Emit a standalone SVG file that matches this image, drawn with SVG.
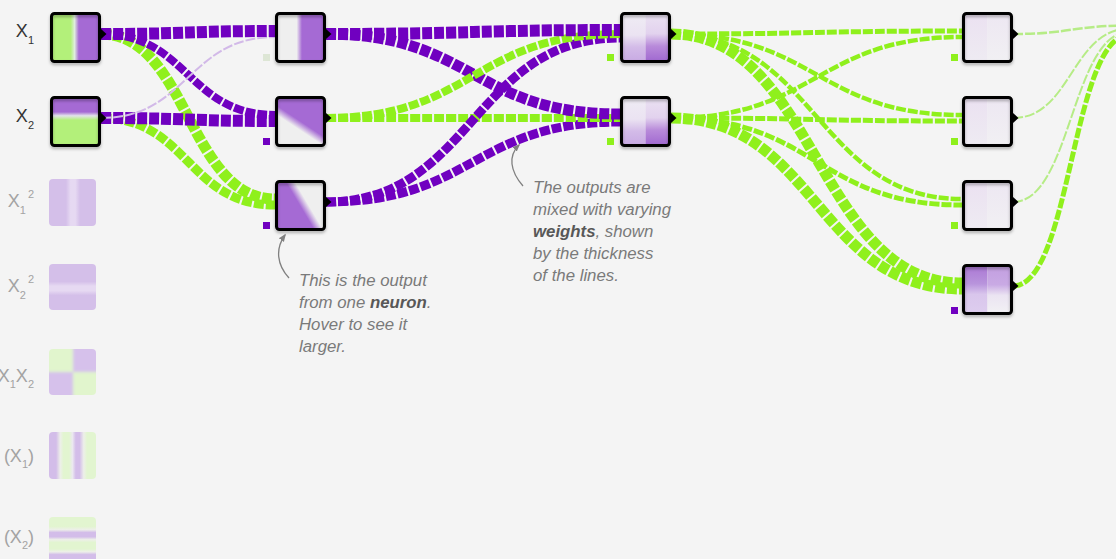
<svg xmlns="http://www.w3.org/2000/svg" width="1116" height="559" viewBox="0 0 1116 559">
<style>
.bg{fill:#f4f4f4}
.lk{fill:none;stroke-dasharray:10,2}
.pu{stroke:#7000c0}
.gr{stroke:#8ff01c}
.lg{stroke:#b6ec86}
.fp{stroke:#d2b9e8}
.box{fill:none;stroke:#000;stroke-width:3}
.lab{font-family:"Liberation Sans",Arial,sans-serif;font-size:18px;fill:#333}
.flab{font-family:"Liberation Sans",Arial,sans-serif;font-size:18px;fill:#a3a3a3}
.sm{font-size:11px}
.note{font-family:"Liberation Sans",Arial,sans-serif;font-size:16.8px;font-style:italic;fill:#7a7a7a}
.note .b{font-weight:bold;fill:#585858}
.arr{fill:none;stroke:#808080;stroke-width:1.3}
.bp{fill:#7000c0}
.bg2{fill:#8ff01c}
</style>
<defs>
<filter id="sh" x="-20%" y="-20%" width="140%" height="150%">
<feDropShadow dx="0" dy="2" stdDeviation="1.6" flood-color="#000" flood-opacity="0.3"/>
</filter>
<filter id="bl" x="-5%" y="-5%" width="110%" height="110%"><feGaussianBlur stdDeviation="1.5"/></filter>
<path id="tri" d="M0,-5 L5.5,0 L0,5 Z" fill="#000"/>
<marker id="ah" viewBox="0 0 10 10" refX="8" refY="5" markerWidth="6" markerHeight="6" orient="auto"><path d="M0,1 L10,5 L0,9 Z" fill="#808080"/></marker>
<linearGradient id="gX1" x1="0" y1="0" x2="1" y2="0"><stop offset="0" stop-color="#b3f07a"/><stop offset="0.4" stop-color="#b3f07a"/><stop offset="0.48" stop-color="#dfeedd"/><stop offset="0.57" stop-color="#a56ad4"/><stop offset="1" stop-color="#a56ad4"/></linearGradient>
<linearGradient id="gX2" x1="0" y1="0" x2="0" y2="1"><stop offset="0" stop-color="#a56ad4"/><stop offset="0.3" stop-color="#a56ad4"/><stop offset="0.38" stop-color="#e2e3ea"/><stop offset="0.47" stop-color="#b3f07a"/><stop offset="1" stop-color="#b3f07a"/></linearGradient>
<linearGradient id="gN1" x1="0" y1="0" x2="1" y2="0"><stop offset="0" stop-color="#efefef"/><stop offset="0.42" stop-color="#efefef"/><stop offset="0.53" stop-color="#a56ad4"/><stop offset="1" stop-color="#a56ad4"/></linearGradient>
<linearGradient id="gN2" gradientUnits="userSpaceOnUse" x1="305.5" y1="116.7" x2="294.5" y2="133.3"><stop offset="0" stop-color="#a56ad4"/><stop offset="0.33" stop-color="#a56ad4"/><stop offset="0.72" stop-color="#efefef"/><stop offset="1" stop-color="#efefef"/></linearGradient>
<linearGradient id="gN3" gradientUnits="userSpaceOnUse" x1="294.9" y1="210.1" x2="312.1" y2="199.9"><stop offset="0" stop-color="#a56ad4"/><stop offset="0.33" stop-color="#a56ad4"/><stop offset="0.72" stop-color="#efefef"/><stop offset="1" stop-color="#efefef"/></linearGradient>
<linearGradient id="gML" x1="0" y1="0" x2="0" y2="1"><stop offset="0" stop-color="#efecf4"/><stop offset="0.45" stop-color="#ebe3f2"/><stop offset="0.7" stop-color="#d3bbe8"/><stop offset="1" stop-color="#c8aae3"/></linearGradient>
<linearGradient id="gMR" x1="0" y1="0" x2="0" y2="1"><stop offset="0" stop-color="#ebe2f2"/><stop offset="0.42" stop-color="#e2d2ee"/><stop offset="0.68" stop-color="#b88ada"/><stop offset="1" stop-color="#a068d0"/></linearGradient>
<linearGradient id="gPL" x1="0" y1="0" x2="0" y2="1"><stop offset="0" stop-color="#ebe1f1"/><stop offset="1" stop-color="#eeebf2"/></linearGradient>
<linearGradient id="gPR" x1="0" y1="0" x2="0" y2="1"><stop offset="0" stop-color="#ede7f2"/><stop offset="1" stop-color="#f1f0f3"/></linearGradient>
<linearGradient id="gP4L" x1="0" y1="0" x2="0" y2="1"><stop offset="0" stop-color="#ab77d4"/><stop offset="0.38" stop-color="#b894dc"/><stop offset="0.6" stop-color="#d9c6ec"/><stop offset="1" stop-color="#ddcdee"/></linearGradient>
<linearGradient id="gP4R" x1="0" y1="0" x2="0" y2="1"><stop offset="0" stop-color="#c29ee0"/><stop offset="0.4" stop-color="#c9aae4"/><stop offset="0.62" stop-color="#ebe4f2"/><stop offset="1" stop-color="#f2f1f4"/></linearGradient>
<linearGradient id="gF1" x1="0" y1="0" x2="1" y2="0"><stop offset="0" stop-color="#d4bfe9"/><stop offset="0.36" stop-color="#d4bfe9"/><stop offset="0.46" stop-color="#e6d9f2"/><stop offset="0.56" stop-color="#e6d9f2"/><stop offset="0.66" stop-color="#d4bfe9"/><stop offset="1" stop-color="#d4bfe9"/></linearGradient>
<linearGradient id="gF2" x1="0" y1="0" x2="0" y2="1"><stop offset="0" stop-color="#d4bfe9"/><stop offset="0.38" stop-color="#d4bfe9"/><stop offset="0.48" stop-color="#e6d9f2"/><stop offset="0.58" stop-color="#e6d9f2"/><stop offset="0.68" stop-color="#d4bfe9"/><stop offset="1" stop-color="#d4bfe9"/></linearGradient>
<linearGradient id="gS1" x1="0" y1="0" x2="1" y2="0"><stop offset="0" stop-color="#d3bde9"/><stop offset="0.15" stop-color="#d3bde9"/><stop offset="0.24" stop-color="#edefe9"/><stop offset="0.31" stop-color="#e2f5d0"/><stop offset="0.43" stop-color="#e2f5d0"/><stop offset="0.5" stop-color="#ebe8f0"/><stop offset="0.57" stop-color="#d3bde9"/><stop offset="0.65" stop-color="#d3bde9"/><stop offset="0.74" stop-color="#edefe9"/><stop offset="0.81" stop-color="#e2f5d0"/><stop offset="1" stop-color="#e2f5d0"/></linearGradient>
<linearGradient id="gS2" x1="0" y1="0" x2="0" y2="1"><stop offset="0" stop-color="#e2f5d0"/><stop offset="0.2" stop-color="#e2f5d0"/><stop offset="0.27" stop-color="#edefe9"/><stop offset="0.33" stop-color="#d3bde9"/><stop offset="0.42" stop-color="#d3bde9"/><stop offset="0.48" stop-color="#edefe9"/><stop offset="0.54" stop-color="#e2f5d0"/><stop offset="0.68" stop-color="#e2f5d0"/><stop offset="0.74" stop-color="#edefe9"/><stop offset="0.8" stop-color="#d3bde9"/><stop offset="1" stop-color="#d3bde9"/></linearGradient>
<clipPath id="cX12"><rect x="49" y="349" width="47" height="46" rx="4"/></clipPath>
</defs>
<rect class="bg" x="0" y="0" width="1116" height="559"/>

<g id="connectors">
<path class="lk gr" stroke-width="5" d="M1013,286 C1071.5,286 1071.5,34.5 1130,34.5"/>
<path class="lk lg" stroke-width="2" d="M1013,202 C1071.5,202 1071.5,31.5 1130,31.5"/>
<path class="lk lg" stroke-width="2" d="M1013,118 C1071.5,118 1071.5,28.5 1130,28.5"/>
<path class="lk lg" stroke-width="2.5" d="M1013,34 C1071.5,34 1071.5,25.5 1130,25.5"/>
<path class="lk gr" stroke-width="11" d="M671,118 C816.5,118 816.5,289 962,289"/>
<path class="lk gr" stroke-width="11" d="M671,34 C816.5,34 816.5,283 962,283"/>
<path class="lk gr" stroke-width="5" d="M671,118 C816.5,118 816.5,205 962,205"/>
<path class="lk gr" stroke-width="4.5" d="M671,34 C816.5,34 816.5,199 962,199"/>
<path class="lk gr" stroke-width="5" d="M671,118 C816.5,118 816.5,121 962,121"/>
<path class="lk gr" stroke-width="4.5" d="M671,34 C816.5,34 816.5,115 962,115"/>
<path class="lk gr" stroke-width="4.5" d="M671,118 C816.5,118 816.5,37 962,37"/>
<path class="lk gr" stroke-width="5" d="M671,34 C816.5,34 816.5,31 962,31"/>
<path class="lk pu" stroke-width="9" d="M326,202 C473,202 473,122 620,122"/>
<path class="lk gr" stroke-width="8" d="M326,118 C473,118 473,118 620,118"/>
<path class="lk pu" stroke-width="11" d="M326,34 C473,34 473,114 620,114"/>
<path class="lk pu" stroke-width="9" d="M326,202 C473,202 473,38 620,38"/>
<path class="lk gr" stroke-width="8" d="M326,118 C473,118 473,34 620,34"/>
<path class="lk pu" stroke-width="12" d="M326,34 C473,34 473,30 620,30"/>
<path class="lk gr" stroke-width="9" d="M101,118 C188,118 188,205 275,205"/>
<path class="lk gr" stroke-width="11" d="M101,34 C188,34 188,199 275,199"/>
<path class="lk pu" stroke-width="12" d="M101,118 C188,118 188,121 275,121"/>
<path class="lk pu" stroke-width="8" d="M101,34 C188,34 188,115 275,115"/>
<path class="lk fp" stroke-width="2" d="M101,118 C188,118 188,37 275,37"/>
<path class="lk pu" stroke-width="12" d="M101,34 C188,34 188,31 275,31"/>
</g>

<g id="in-x1">
<rect x="51.5" y="13.5" width="48" height="48" fill="url(#gX1)"/>
<rect class="box" x="51.5" y="13.5" width="48" height="48" rx="3" filter="url(#sh)"/>
<use href="#tri" x="101" y="34"/>
<text class="lab" x="34" y="37" text-anchor="end">X<tspan class="sm" dy="7">1</tspan></text>
</g>
<g id="in-x2">
<rect x="51.5" y="97.5" width="48" height="48" fill="url(#gX2)"/>
<rect class="box" x="51.5" y="97.5" width="48" height="48" rx="3" filter="url(#sh)"/>
<use href="#tri" x="101" y="118"/>
<text class="lab" x="34" y="122" text-anchor="end">X<tspan class="sm" dy="7">2</tspan></text>
</g>
<g id="in-x1sq">
<rect x="49" y="179" width="47" height="47" rx="4" fill="url(#gF1)"/>
<text class="flab" x="34" y="207" text-anchor="end">X<tspan class="sm" dy="7">1</tspan><tspan class="sm" dx="2" dy="-16">2</tspan></text>
</g>
<g id="in-x2sq">
<rect x="49" y="264" width="47" height="46" rx="4" fill="url(#gF2)"/>
<text class="flab" x="34" y="292" text-anchor="end">X<tspan class="sm" dy="7">2</tspan><tspan class="sm" dx="2" dy="-16">2</tspan></text>
</g>
<g id="in-x1x2">
<g clip-path="url(#cX12)">
<g filter="url(#bl)">
<rect x="45" y="345" width="28" height="27" fill="#e1f5cd"/>
<rect x="73" y="345" width="27" height="27" fill="#d6c1eb"/>
<rect x="45" y="372" width="28" height="27" fill="#d6c1eb"/>
<rect x="73" y="372" width="27" height="27" fill="#e1f5cd"/>
</g>
</g>
<text class="flab" x="34" y="382" text-anchor="end">X<tspan class="sm" dy="6">1</tspan><tspan dy="-6">X</tspan><tspan class="sm" dy="6">2</tspan></text>
</g>
<g id="in-sinx1">
<rect x="49" y="432" width="47" height="47" rx="4" fill="url(#gS1)"/>
<text class="flab" x="34" y="462" text-anchor="end">(X<tspan class="sm" dy="6">1</tspan><tspan dy="-6">)</tspan></text>
</g>
<g id="in-sinx2">
<rect x="49" y="517" width="47" height="47" rx="4" fill="url(#gS2)"/>
<text class="flab" x="34" y="543" text-anchor="end">(X<tspan class="sm" dy="6">2</tspan><tspan dy="-6">)</tspan></text>
</g>

<g id="h1-n1">
<rect x="276.5" y="13.5" width="48" height="48" fill="url(#gN1)"/>
<rect class="box" x="276.5" y="13.5" width="48" height="48" rx="3" filter="url(#sh)"/>
<use href="#tri" x="326" y="34"/>
<rect x="263" y="54" width="7" height="7" fill="#dde6d5"/>
</g>
<g id="h1-n2">
<rect x="276.5" y="97.5" width="48" height="48" fill="url(#gN2)"/>
<rect class="box" x="276.5" y="97.5" width="48" height="48" rx="3" filter="url(#sh)"/>
<use href="#tri" x="326" y="118"/>
<rect class="bp" x="263" y="138" width="7" height="7"/>
</g>
<g id="h1-n3">
<rect x="276.5" y="181.5" width="48" height="48" fill="url(#gN3)"/>
<rect class="box" x="276.5" y="181.5" width="48" height="48" rx="3" filter="url(#sh)"/>
<use href="#tri" x="326" y="202"/>
<rect class="bp" x="263" y="222" width="7" height="7"/>
</g>

<g id="h2-n1">
<rect x="621.5" y="13.5" width="24" height="48" fill="url(#gML)"/>
<rect x="645.5" y="13.5" width="24" height="48" fill="url(#gMR)"/>
<rect class="box" x="621.5" y="13.5" width="48" height="48" rx="3" filter="url(#sh)"/>
<use href="#tri" x="671" y="34"/>
<rect class="bg2" x="607" y="54" width="7" height="7"/>
</g>
<g id="h2-n2">
<rect x="621.5" y="97.5" width="24" height="48" fill="url(#gML)"/>
<rect x="645.5" y="97.5" width="24" height="48" fill="url(#gMR)"/>
<rect class="box" x="621.5" y="97.5" width="48" height="48" rx="3" filter="url(#sh)"/>
<use href="#tri" x="671" y="118"/>
<rect class="bg2" x="607" y="138" width="7" height="7"/>
</g>

<g id="h3-n1">
<rect x="963.5" y="13.5" width="24" height="48" fill="url(#gPL)"/>
<rect x="987.5" y="13.5" width="24" height="48" fill="url(#gPR)"/>
<rect class="box" x="963.5" y="13.5" width="48" height="48" rx="3" filter="url(#sh)"/>
<use href="#tri" x="1013" y="34"/>
<rect class="bg2" x="951" y="54" width="7" height="7"/>
</g>
<g id="h3-n2">
<rect x="963.5" y="97.5" width="24" height="48" fill="url(#gPL)"/>
<rect x="987.5" y="97.5" width="24" height="48" fill="url(#gPR)"/>
<rect class="box" x="963.5" y="97.5" width="48" height="48" rx="3" filter="url(#sh)"/>
<use href="#tri" x="1013" y="118"/>
<rect class="bg2" x="951" y="138" width="7" height="7"/>
</g>
<g id="h3-n3">
<rect x="963.5" y="181.5" width="24" height="48" fill="url(#gPL)"/>
<rect x="987.5" y="181.5" width="24" height="48" fill="url(#gPR)"/>
<rect class="box" x="963.5" y="181.5" width="48" height="48" rx="3" filter="url(#sh)"/>
<use href="#tri" x="1013" y="202"/>
<rect class="bg2" x="951" y="222" width="7" height="7"/>
</g>
<g id="h3-n4">
<rect x="963.5" y="265.5" width="24" height="48" fill="url(#gP4L)"/>
<rect x="987.5" y="265.5" width="24" height="48" fill="url(#gP4R)"/>
<rect class="box" x="963.5" y="265.5" width="48" height="48" rx="3" filter="url(#sh)"/>
<use href="#tri" x="1013" y="286"/>
<rect class="bp" x="951" y="307" width="7" height="7"/>
</g>

<g id="note-neuron">
<path class="arr" marker-end="url(#ah)" d="M289,278 C277,265 275,249 285,235"/>
<text class="note" x="299" y="286">This is the output</text>
<text class="note" x="299" y="308">from one <tspan class="b">neuron</tspan>.</text>
<text class="note" x="299" y="330">Hover to see it</text>
<text class="note" x="299" y="352">larger.</text>
</g>
<g id="note-weights">
<path class="arr" marker-end="url(#ah)" d="M523,186 C510,171 508,156 519,145"/>
<text class="note" x="533" y="193">The outputs are</text>
<text class="note" x="533" y="215">mixed with varying</text>
<text class="note" x="533" y="237"><tspan class="b">weights</tspan>, shown</text>
<text class="note" x="533" y="259">by the thickness</text>
<text class="note" x="533" y="281">of the lines.</text>
</g>
</svg>
